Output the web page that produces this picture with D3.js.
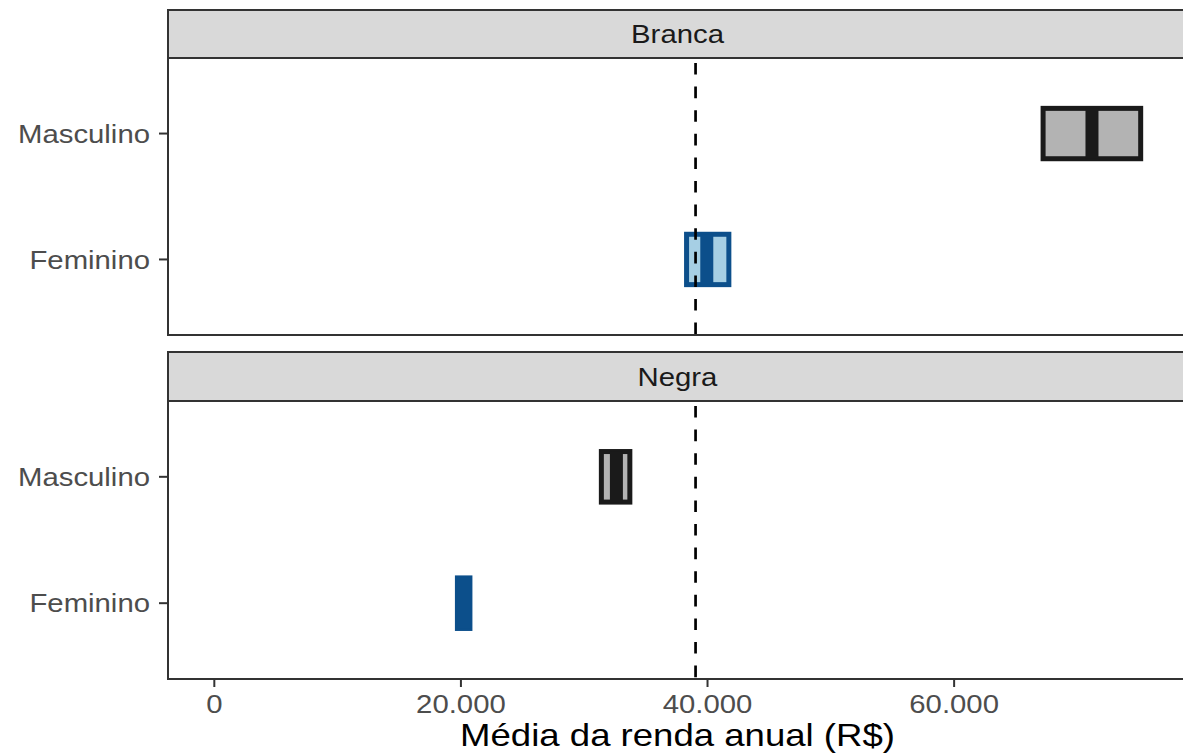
<!DOCTYPE html>
<html>
<head>
<meta charset="utf-8">
<script src="https://cdn.jsdelivr.net/npm/d3@7"></script>
<style>
  html, body { margin: 0; padding: 0; background: #fff; }
  svg { display: block; }
  text { font-family: "Liberation Sans", Arial, sans-serif; }
</style>
</head>
<body>
<svg id="chart" width="1183" height="756"></svg>
<script>
// ---- data ----
const facets = ["Branca", "Negra"];
const sexes = ["Masculino", "Feminino"];
const groupFacet = ["Branca", "Branca", "Negra", "Negra"];
const groupSex   = ["Masculino", "Feminino", "Masculino", "Feminino"];
const meanValues  = [71180, 39940, 32610, 20220];
const lowerValues = [67215, 38300, 31390, 19716];
const upperValues = [75130, 41730, 33700, 20730];
const refLine = 39030;
const xTicks = [0, 20000, 40000, 60000];
const xTickLabels = ["0", "20.000", "40.000", "60.000"];
const xTitle = "Média da renda anual (R$)";

const colors = {
  Masculino: { stroke: "#1a1a1a", fill: "#b3b3b3" },
  Feminino:  { stroke: "#0c4f8b", fill: "#a6cfe4" }
};

const rows = groupFacet.map((f, i) => ({
  facet: f, sex: groupSex[i], mean: meanValues[i], lo: lowerValues[i], hi: upperValues[i]
}));

// ---- layout ----
const svg = d3.select("#chart");
const W = 1183;
const panelLeft = 168, panelRight = 1187;
const strips = [{ top: 10, bottom: 58 }, { top: 352, bottom: 401 }];
const panels = [{ top: 58, bottom: 335 }, { top: 401, bottom: 679 }];
const SX = 1.15; // horizontal text stretch
const fs = 25.5;

svg.append("rect").attr("width", W).attr("height", 756).attr("fill", "#fff");

const xmax = d3.max(upperValues);
const xmin = 0;
const span = xmax - xmin;
const x = d3.scaleLinear()
  .domain([xmin - 0.05 * span, xmax + 0.05 * span])
  .range([panelLeft, panelRight]);

function stretchedText(g, tx, ty, str, anchor, size, color) {
  return g.append("text")
    .attr("transform", `translate(${tx},${ty}) scale(${SX},1)`)
    .attr("text-anchor", anchor)
    .attr("font-size", size)
    .attr("fill", color)
    .text(str);
}

facets.forEach((facet, fi) => {
  const p = panels[fi], s = strips[fi];
  const y = d3.scalePoint().domain(sexes).range([p.top, p.bottom]).padding(0.6);
  const step = y.step();
  const g = svg.append("g");

  // strip
  g.append("rect")
    .attr("x", panelLeft).attr("y", s.top)
    .attr("width", panelRight - panelLeft).attr("height", s.bottom - s.top)
    .attr("fill", "#d9d9d9").attr("stroke", "#333").attr("stroke-width", 2);
  stretchedText(g, (panelLeft + panelRight) / 2, (s.top + s.bottom) / 2 + 9.2, facet, "middle", fs, "#1a1a1a");

  // panel background
  g.append("rect")
    .attr("x", panelLeft).attr("y", p.top)
    .attr("width", panelRight - panelLeft).attr("height", p.bottom - p.top)
    .attr("fill", "#fff");

  // crossbars
  const data = rows.filter(r => r.facet === facet);
  const bh = 0.4 * step;
  const bars = g.selectAll("g.cb").data(data).join("g").attr("class", "cb");
  bars.append("rect")
    .attr("x", d => x(d.lo)).attr("y", d => y(d.sex) - bh / 2)
    .attr("width", d => x(d.hi) - x(d.lo)).attr("height", bh)
    .attr("fill", d => colors[d.sex].fill)
    .attr("stroke", d => colors[d.sex].stroke)
    .attr("stroke-width", 5);
  bars.append("line")
    .attr("x1", d => x(d.mean)).attr("x2", d => x(d.mean))
    .attr("y1", d => y(d.sex) - bh / 2).attr("y2", d => y(d.sex) + bh / 2)
    .attr("stroke", d => colors[d.sex].stroke)
    .attr("stroke-width", 13);

  // reference dashed line
  g.append("line")
    .attr("x1", x(refLine)).attr("x2", x(refLine))
    .attr("y1", p.top).attr("y2", p.bottom)
    .attr("stroke", "#000").attr("stroke-width", 2.7)
    .attr("stroke-dasharray", "11.6,12")
    .attr("stroke-dashoffset", 18.6);

  // panel border
  g.append("rect")
    .attr("x", panelLeft).attr("y", p.top)
    .attr("width", panelRight - panelLeft).attr("height", p.bottom - p.top)
    .attr("fill", "none").attr("stroke", "#333").attr("stroke-width", 2);

  // y axis ticks + labels
  sexes.forEach(sx => {
    g.append("line")
      .attr("x1", panelLeft - 9).attr("x2", panelLeft)
      .attr("y1", y(sx)).attr("y2", y(sx))
      .attr("stroke", "#333").attr("stroke-width", 2);
    stretchedText(g, panelLeft - 18, y(sx) + 9.2, sx, "end", fs, "#4d4d4d");
  });

  // x axis on bottom panel
  if (fi === facets.length - 1) {
    const ax = svg.append("g");
    xTicks.forEach((t, i) => {
      ax.append("line")
        .attr("x1", x(t)).attr("x2", x(t))
        .attr("y1", p.bottom).attr("y2", p.bottom + 8)
        .attr("stroke", "#333").attr("stroke-width", 2);
      stretchedText(ax, x(t), 713, xTickLabels[i], "middle", fs, "#4d4d4d");
    });
    stretchedText(ax, (panelLeft + panelRight) / 2, 746, xTitle, "middle", 31.8, "#000");
  }
});
</script>
</body>
</html>
